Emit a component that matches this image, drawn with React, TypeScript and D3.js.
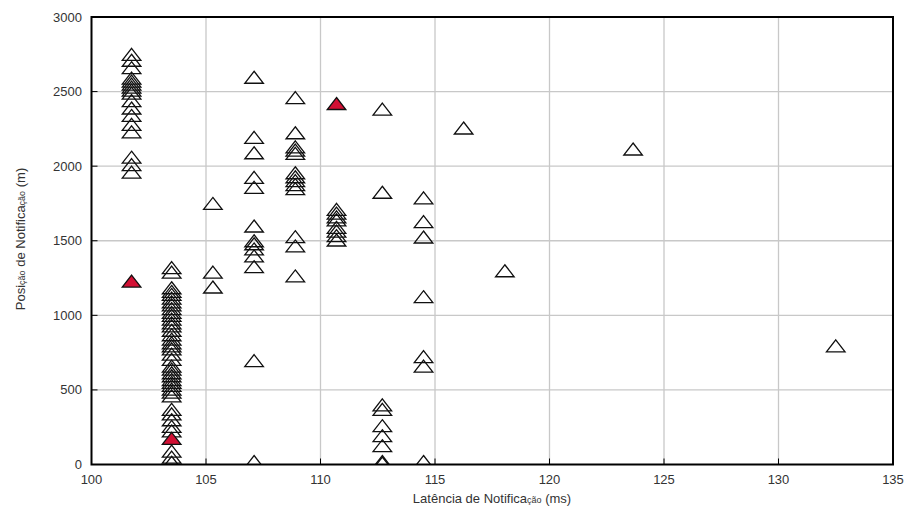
import React from 'react';
import * as d3 from 'd3';

// latency (ms) of each vertical column of notifications
const columnLatency = [101.75, 103.5, 105.3, 107.1, 108.9, 110.7, 112.7, 114.5];
// notification positions (m) for each column
const columnPositions = [
  [2750, 2710, 2660, 2590, 2570, 2550, 2530, 2510, 2490, 2440, 2390, 2340, 2280, 2230, 2060, 2010, 1960],
  [1320, 1290, 1185, 1160, 1140, 1115, 1090, 1070, 1045, 1020, 1000, 975, 950, 930, 900, 870, 840, 815, 795,
    775, 740, 705, 660, 640, 615, 595, 570, 550, 530, 505, 485, 460, 370, 340, 300, 255, 225, 90, 50, 15],
  [1750, 1290, 1190],
  [2596, 2193, 2090, 1925, 1858, 1599, 1500, 1480, 1445, 1398, 1326, 696, 20],
  [2460, 2224, 2130, 2108, 2086, 1956, 1929, 1903, 1876, 1849, 1527, 1465, 1264],
  [1710, 1685, 1660, 1640, 1590, 1565, 1535, 1505],
  [2383, 1825, 400, 370, 260, 193, 126, 20, 10],
  [1788, 1628, 1525, 1125, 723, 660, 20],
];
// scattered single notifications
const singleLatency = [116.25, 118.05, 123.65, 132.5];
const singlePosition = [2256, 1299, 2115, 795];
// highlighted (red) notifications
const redLatency = [101.75, 103.5, 110.7];
const redPosition = [1230, 175, 2420];

const xTicks = [100, 105, 110, 115, 120, 125, 130, 135];
const yTicks = [0, 500, 1000, 1500, 2000, 2500, 3000];

const width = 912;
const height = 514;
const left = 91.5, right = 893, top = 17, bottom = 464.5;
const font = '"Liberation Sans", Arial, sans-serif';

const App = () => {
  const x = d3.scaleLinear().domain([100, 135]).range([left, right]);
  const y = d3.scaleLinear().domain([0, 3000]).range([bottom, top]);

  const tri = (cx: number, cy: number) =>
    `M${cx},${cy - 6}L${cx + 9.3},${cy + 6}L${cx - 9.3},${cy + 6}Z`;

  const hollow: [number, number][] = [];
  columnLatency.forEach((lat, i) => columnPositions[i].forEach(p => hollow.push([lat, p])));
  singleLatency.forEach((lat, i) => hollow.push([lat, singlePosition[i]]));

  return (
    <svg width={width} height={height} style={{ position: 'absolute', left: 0, top: 0, background: '#fff' }}>
      <defs>
        <clipPath id="plot">
          <rect x={left} y={top} width={right - left} height={bottom - top} />
        </clipPath>
      </defs>
      {/* grid */}
      {xTicks.slice(1, -1).map(t => (
        <line key={'gx' + t} x1={x(t)} x2={x(t)} y1={top} y2={bottom} stroke="#c8c8c8" strokeWidth={1.3} />
      ))}
      {yTicks.slice(1, -1).map(t => (
        <line key={'gy' + t} x1={left} x2={right} y1={y(t)} y2={y(t)} stroke="#c8c8c8" strokeWidth={1.3} />
      ))}
      {/* ticks */}
      {xTicks.map(t => (
        <line key={'tx' + t} x1={x(t)} x2={x(t)} y1={bottom} y2={bottom - 6} stroke="#000" strokeWidth={1} />
      ))}
      {yTicks.map(t => (
        <line key={'ty' + t} x1={left} x2={left + 6} y1={y(t)} y2={y(t)} stroke="#000" strokeWidth={1} />
      ))}
      {/* markers */}
      <g clipPath="url(#plot)">
        {hollow.map(([lx, py], i) => (
          <path key={'h' + i} d={tri(x(lx), y(py))} fill="none" stroke="#111" strokeWidth={1.3} />
        ))}
        {redLatency.map((lx, i) => (
          <path key={'r' + i} d={tri(x(lx), y(redPosition[i]))} fill="#d21034" stroke="#111" strokeWidth={1.3} />
        ))}
      </g>
      {/* frame */}
      <rect x={left} y={top} width={right - left} height={bottom - top} fill="none" stroke="#000" strokeWidth={2} />
      {/* tick labels */}
      {xTicks.map(t => (
        <text key={'lx' + t} x={x(t)} y={484} textAnchor="middle" fontFamily={font} fontSize={13} fill="#333">{t}</text>
      ))}
      {yTicks.map(t => (
        <text key={'ly' + t} x={82} y={y(t) + 4.5} textAnchor="end" fontFamily={font} fontSize={13} fill="#333">{t}</text>
      ))}
      {/* axis titles */}
      <text x={492} y={503} textAnchor="middle" fontFamily={font} fontSize={13} fill="#333">
        Latência de Notifica<tspan fontSize={9}>ção</tspan> (ms)
      </text>
      <text transform="translate(25,239) rotate(-90)" textAnchor="middle" fontFamily={font} fontSize={13} fill="#333">
        Posi<tspan fontSize={9}>ção</tspan> de Notifica<tspan fontSize={9}>ção</tspan> (m)
      </text>
    </svg>
  );
};

export default App;
